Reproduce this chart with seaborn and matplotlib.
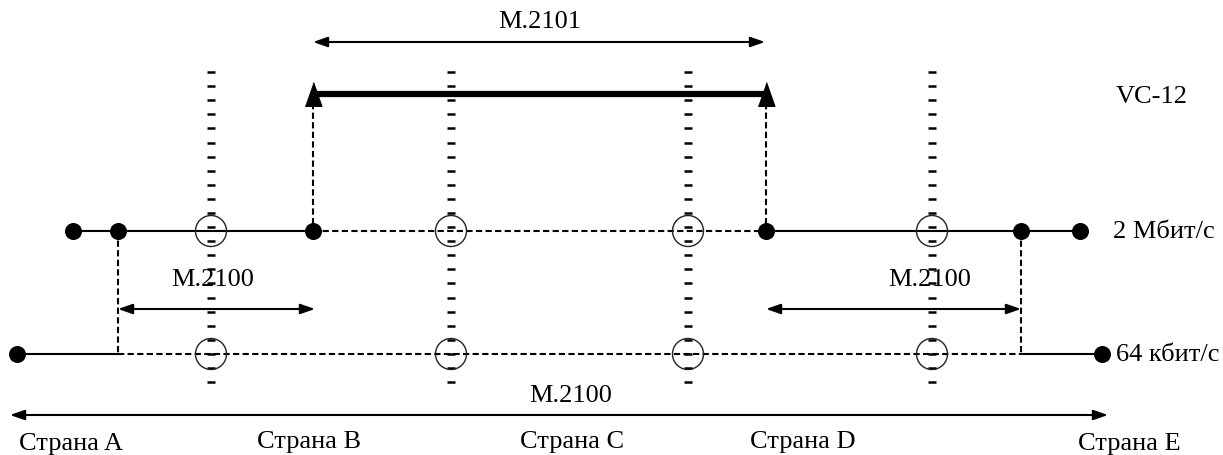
"""
Hypothetical reference connection: M.2100 / M.2101 path allocation diagram.
Drawn in pixel coordinates on a single axis (y grows downward).
"""

import numpy as np
import pandas as pd
import matplotlib
matplotlib.use("Agg")
import matplotlib.pyplot as plt
import seaborn as sns

# =============================================================================
# DATA
# =============================================================================

W, H = 1223, 456

# levels (y positions of the three transmission layers)
level_y = {"vc12": 95, "2m": 232, "64k": 355}

# nodes on the 2 Mbit/s line and on the 64 kbit/s line
nodes_2m_x = [73, 118, 313, 766, 1021, 1080]
nodes_64k_x = [17, 1102]

# segments: (x_start, x_end, level, dashed)
segments = [
    (73, 313, "2m", False),
    (313, 766, "2m", True),
    (766, 1080, "2m", False),
    (17, 118, "64k", False),
    (118, 1021, "64k", True),
    (1021, 1102, "64k", False),
]

# vertical links between layers: (x, y_top, y_bottom)
links = [
    (118, 232, 355),
    (1021, 232, 355),
    (313, 104, 232),
    (766, 104, 232),
]

# country borders (short-dash columns)
border_x = [211, 451, 688, 932]
border_top, border_bottom = 73, 383

# dimension arrows: (x_start, x_end, y, label, label_x, label_y)
dims = [
    (313, 765, 43, "M.2101", 540, 22),
    (118, 315, 310, "M.2100", 213, 280),
    (766, 1021, 310, "M.2100", 930, 280),
    (10, 1108, 416, "M.2100", 571, 396),
]

countries = ["Страна A", "Страна B", "Страна C", "Страна D", "Страна E"]
country_x = [71, 309, 572, 803, 1129]
country_y = [444, 442, 442, 442, 444]

rate_labels = ["VC-12", "2 Мбит/с", "64 кбит/с"]
rate_label_x = [1152, 1113, 1116]
rate_label_ha = ["center", "left", "left"]

# =============================================================================
# FIGURE
# =============================================================================

sns.set_theme(style="white")
plt.rcParams["font.family"] = ["Liberation Serif", "DejaVu Serif"]

fig = plt.figure(figsize=(W / 100, H / 100), dpi=100)
ax = fig.add_axes([0, 0, 1, 1])

LW = 1.5
DASH = (0, (3, 1.6))
FS = 19

# border columns made of short horizontal dashes
col_y = np.arange(border_top, border_bottom + 1, 14.1)
for bx in border_x:
    ax.plot([bx] * len(col_y), col_y, linestyle="none", marker="_",
            markersize=5.5, markeredgewidth=1.8, color="black", zorder=2)
    for lv in ("2m", "64k"):
        ax.add_patch(plt.Circle((bx, level_y[lv]), 15.5, fill=False,
                                edgecolor="#222222", linewidth=1.0, zorder=3))

# horizontal layer segments
for x0, x1, lv, dashed in segments:
    ax.plot([x0, x1], [level_y[lv]] * 2, color="black", linewidth=LW,
            linestyle=DASH if dashed else "-", zorder=2)

# vertical dashed links
for lx, y0, y1 in links:
    ax.plot([lx, lx], [y0, y1], color="black", linewidth=LW,
            linestyle=DASH, zorder=2)

# VC-12 thick path with triangular ends
ax.plot([links[2][0], links[3][0]], [level_y["vc12"]] * 2,
        color="black", linewidth=4.5, solid_capstyle="butt", zorder=3)
tri = [(-0.35, -0.5), (0.35, -0.5), (0.0, 0.5)]
ax.plot([links[2][0], links[3][0]], [level_y["vc12"]] * 2, linestyle="none",
        marker=tri, markersize=17, color="black", zorder=4)

# nodes
node_df = pd.DataFrame({
    "x": nodes_2m_x + nodes_64k_x,
    "y": [level_y["2m"]] * len(nodes_2m_x) + [level_y["64k"]] * len(nodes_64k_x),
})
sns.scatterplot(data=node_df, x="x", y="y", ax=ax, s=150, color="black",
                edgecolor="black", linewidth=0, zorder=5, legend=False)
ax.set_xlim(0, W)
ax.set_ylim(H, 0)
ax.axis("off")

# dimension arrows with labels
for x0, x1, y, label, lx, ly in dims:
    ax.annotate("", xy=(x1, y), xytext=(x0, y),
                arrowprops=dict(arrowstyle="<|-|>,head_length=0.72,head_width=0.25",
                                color="black", linewidth=1.5,
                                shrinkA=0, shrinkB=0, mutation_scale=12))
    ax.text(lx, ly, label, fontsize=FS, ha="center", va="center",
            color="black", zorder=6)

# rate labels
rate_y = [level_y["vc12"] + 2, level_y["2m"], level_y["64k"]]
for txt, tx, ty, ha in zip(rate_labels, rate_label_x, rate_y, rate_label_ha):
    ax.text(tx, ty, txt, fontsize=FS, ha=ha, va="center", color="black")

# country names
for name, cx, cy in zip(countries, country_x, country_y):
    ax.text(cx, cy, name, fontsize=FS, ha="center", va="center", color="black")

fig.savefig("out.png", dpi=100)
plt.close(fig)
